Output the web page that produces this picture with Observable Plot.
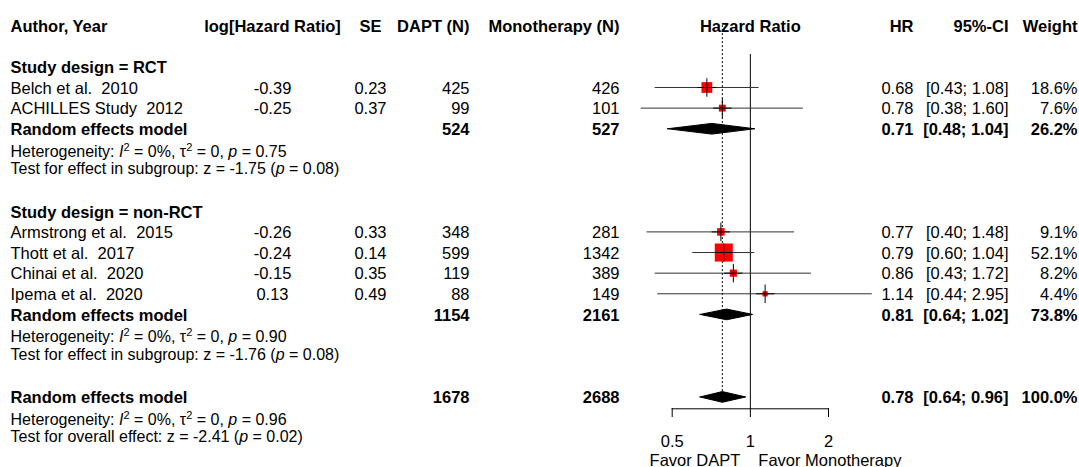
<!DOCTYPE html>
<html>
<head>
<meta charset="utf-8">
<script src="https://cdn.jsdelivr.net/npm/d3@7"></script>
<script src="https://cdn.jsdelivr.net/npm/@observablehq/plot@0.6"></script>
<style>
  html, body { margin: 0; padding: 0; background: #ffffff; }
  #chart { width: 1079px; height: 467px; }
</style>
</head>
<body>
<div id="chart"></div>
<script>
// ---------------- data ----------------
const studies = ["Belch et al.  2010", "ACHILLES Study  2012", "Armstrong et al.  2015", "Thott et al.  2017", "Chinai et al.  2020", "Ipema et al.  2020"];
const designs = ["RCT", "RCT", "non-RCT", "non-RCT", "non-RCT", "non-RCT"];
const logHR = [-0.39, -0.25, -0.26, -0.24, -0.15, 0.13];
const se = [0.23, 0.37, 0.33, 0.14, 0.35, 0.49];
const nDAPT = [425, 99, 348, 599, 119, 88];
const nMono = [426, 101, 281, 1342, 389, 149];
const hr = [0.68, 0.78, 0.77, 0.79, 0.86, 1.14];
const ciLower = [0.43, 0.38, 0.40, 0.60, 0.43, 0.44];
const ciUpper = [1.08, 1.60, 1.48, 1.04, 1.72, 2.95];
const weight = [18.6, 7.6, 9.1, 52.1, 8.2, 4.4];

const groupLabels = ["Study design = RCT", "Study design = non-RCT"];
const summaryLabels = ["Random effects model", "Random effects model", "Random effects model"];
const summaryDAPT = [524, 1154, 1678];
const summaryMono = [527, 2161, 2688];
const summaryHR = [0.71, 0.81, 0.78];
const summaryLower = [0.48, 0.64, 0.64];
const summaryUpper = [1.04, 1.02, 0.96];
const summaryWeight = [26.2, 73.8, 100.0];

const hetI2 = ["0%", "0%", "0%"];
const hetTau2 = ["0", "0", "0"];
const hetP = ["0.75", "0.90", "0.96"];
const testLabels = ["Test for effect in subgroup", "Test for effect in subgroup", "Test for overall effect"];
const testZ = ["-1.75", "-1.76", "-2.41"];
const testP = ["0.08", "0.08", "0.02"];

const headers = ["Author, Year", "log[Hazard Ratio]", "SE", "DAPT (N)", "Monotherapy (N)", "Hazard Ratio", "HR", "95%-CI", "Weight"];
const axisTicks = [0.5, 1, 2];
const favorLabels = ["Favor DAPT", "Favor Monotherapy"];

// ---------------- layout ----------------
const studyRows = [3, 4, 10, 11, 12, 13];
const groupRows = [2, 9];
const summaryRows = [5, 14, 18];
const hetRows = [6.05, 15.05, 19.05];
const testRows = [6.9, 15.9, 19.9];
const axisRow = 18.575;
const diamondHalf = 0.26;
const fontFamily = "'Liberation Sans', Arial, Helvetica, sans-serif";

const f2 = v => v.toFixed(2);
const ci = (l, u) => `[${f2(l)}; ${f2(u)}]`;

const studyData = studies.map((s, i) => ({
  label: s, design: designs[i], logHR: f2(logHR[i]), se: f2(se[i]),
  nD: String(nDAPT[i]), nM: String(nMono[i]), hr: hr[i], lo: ciLower[i], hi: ciUpper[i],
  hrText: f2(hr[i]), ciText: ci(ciLower[i], ciUpper[i]), w: weight[i], wText: weight[i].toFixed(1) + "%",
  row: studyRows[i]
}));
const summaryData = summaryLabels.map((s, i) => ({
  label: s, nD: String(summaryDAPT[i]), nM: String(summaryMono[i]),
  hr: summaryHR[i], lo: summaryLower[i], hi: summaryUpper[i],
  hrText: f2(summaryHR[i]), ciText: ci(summaryLower[i], summaryUpper[i]),
  wText: summaryWeight[i].toFixed(1) + "%", row: summaryRows[i]
}));
const groupData = groupLabels.map((g, i) => ({label: g, row: groupRows[i]}));
const hetData = hetI2.map((v, i) => ({
  label: `Heterogeneity: I² = ${v}, τ² = ${hetTau2[i]}, p = ${hetP[i]}`, row: hetRows[i]
}));
const testData = testLabels.map((t, i) => ({
  label: `${t}: z = ${testZ[i]} (p = ${testP[i]})`, row: testRows[i]
}));
const diamondPts = summaryData.flatMap((d, i) => [
  {id: i, x: d.lo, y: d.row},
  {id: i, x: d.hr, y: d.row - diamondHalf},
  {id: i, x: d.hi, y: d.row},
  {id: i, x: d.hr, y: d.row + diamondHalf},
  {id: i, x: d.lo, y: d.row}
]);

// column placement
const columns = [
  {h: 0, key: "label", dx: 10, anchor: "start"},
  {h: 1, key: "logHR", dx: 272, anchor: "middle"},
  {h: 2, key: "se", dx: 370, anchor: "middle"},
  {h: 3, key: "nD", dx: 469, anchor: "end"},
  {h: 4, key: "nM", dx: 619, anchor: "end"},
  {h: 6, key: "hrText", dx: 913, anchor: "end"},
  {h: 7, key: "ciText", dx: 1008, anchor: "end"},
  {h: 8, key: "wText", dx: 1077, anchor: "end"}
];

const textMarks = columns.flatMap(c => {
  const marks = [
    Plot.text([headers[c.h]], {frameAnchor: "left", y: () => 0, text: d => d, dx: c.dx, dy: 1.5, textAnchor: c.anchor, fontWeight: "bold"}),
    Plot.text(studyData, {frameAnchor: "left", y: "row", text: c.key, dx: c.dx, dy: 1, textAnchor: c.anchor})
  ];
  if (c.key !== "logHR" && c.key !== "se") {
    marks.push(Plot.text(summaryData, {frameAnchor: "left", y: "row", text: c.key, dx: c.dx, dy: 1, textAnchor: c.anchor, fontWeight: "bold"}));
  }
  return marks;
});

const chart = Plot.plot({
  width: 1079,
  height: 467,
  marginTop: 54,
  marginBottom: 59,
  marginLeft: 0,
  marginRight: 0,
  style: {fontFamily, fontSize: "16.5px", background: "#ffffff", color: "#000000", overflow: "visible"},
  x: {type: "log", domain: [0.5, 2], range: [671.7, 828]},
  y: {domain: [0, 20], range: [25.1, 437.7], axis: null},
  r: {type: "sqrt", domain: [0, 52.1], range: [0, 10.18]},
  marks: [
    // reference lines
    Plot.ruleX([1], {stroke: "#000000", strokeWidth: 1}),
    Plot.ruleX([summaryHR[2]], {y2: summaryRows[2], stroke: "#000000", strokeWidth: 1, strokeDasharray: "2,2"}),
    // confidence intervals
    Plot.ruleY(studyData, {y: "row", x1: "lo", x2: "hi", stroke: "#333333", strokeWidth: 1}),
    // weighted squares
    Plot.dot(studyData, {x: "hr", y: "row", r: "w", symbol: "square", fill: "#ff0000", stroke: "none"}),
    Plot.dot(studyData, {x: "hr", y: "row", r: 6, symbol: "plus", stroke: "#000000", strokeWidth: 1}),
    // pooled diamonds
    Plot.line(diamondPts, {x: "x", y: "y", z: "id", fill: "#000000", stroke: "#000000", strokeWidth: 1, curve: "linear"}),
    // axis
    Plot.ruleY([axisRow], {x1: axisTicks[0], x2: axisTicks[axisTicks.length - 1], stroke: "#000000", strokeWidth: 1}),
    Plot.axisX({ticks: axisTicks, tickSize: 9, tickPadding: 18, tickFormat: d => String(d), fontSize: 16.5, label: null, stroke: "#000000", strokeWidth: 1}),
    Plot.text([favorLabels[0]], {x: () => axisTicks[1], text: d => d, frameAnchor: "bottom", dy: 57, dx: -10, textAnchor: "end"}),
    Plot.text([favorLabels[1]], {x: () => axisTicks[1], text: d => d, frameAnchor: "bottom", dy: 57, dx: 8, textAnchor: "start"}),
    // header over forest
    Plot.text([headers[5]], {x: () => axisTicks[1], y: () => 0, text: d => d, dy: 1.5, fontWeight: "bold"}),
    // table
    ...textMarks,
    Plot.text(groupData, {frameAnchor: "left", y: "row", text: "label", dx: 10, dy: 1, textAnchor: "start", fontWeight: "bold"}),
    Plot.text(hetData, {frameAnchor: "left", y: "row", text: "label", dx: 10, dy: 1, textAnchor: "start", fontSize: 16}),
    Plot.text(testData, {frameAnchor: "left", y: "row", text: "label", dx: 10, dy: 1, textAnchor: "start", fontSize: 16})
  ]
});

// rich text: italic symbols and superscripts in heterogeneity / test lines
const ns = "http://www.w3.org/2000/svg";
chart.querySelectorAll("text").forEach(t => {
  const s = t.textContent;
  if (!(s.startsWith("Heterogeneity") || s.startsWith("Test for"))) return;
  while (t.firstChild) t.removeChild(t.firstChild);
  let pendingDy = 0;
  const add = (str, opts = {}) => {
    const ts = document.createElementNS(ns, "tspan");
    ts.textContent = str;
    let dy = pendingDy;
    pendingDy = 0;
    if (opts.italic) ts.setAttribute("font-style", "italic");
    if (opts.sup) { ts.setAttribute("font-size", "11"); dy += -6; pendingDy = 6; }
    if (dy) ts.setAttribute("dy", dy);
    t.appendChild(ts);
  };
  const re = /(I²|τ²|\bp\b)/g;
  let last = 0, m;
  while ((m = re.exec(s))) {
    if (m.index > last) add(s.slice(last, m.index));
    if (m[0] === "I²") { add("I", {italic: true}); add("2", {sup: true}); }
    else if (m[0] === "τ²") { add("τ"); add("2", {sup: true}); }
    else add("p", {italic: true});
    last = re.lastIndex;
  }
  if (last < s.length) add(s.slice(last));
});

document.getElementById("chart").appendChild(chart);
</script>
</body>
</html>
